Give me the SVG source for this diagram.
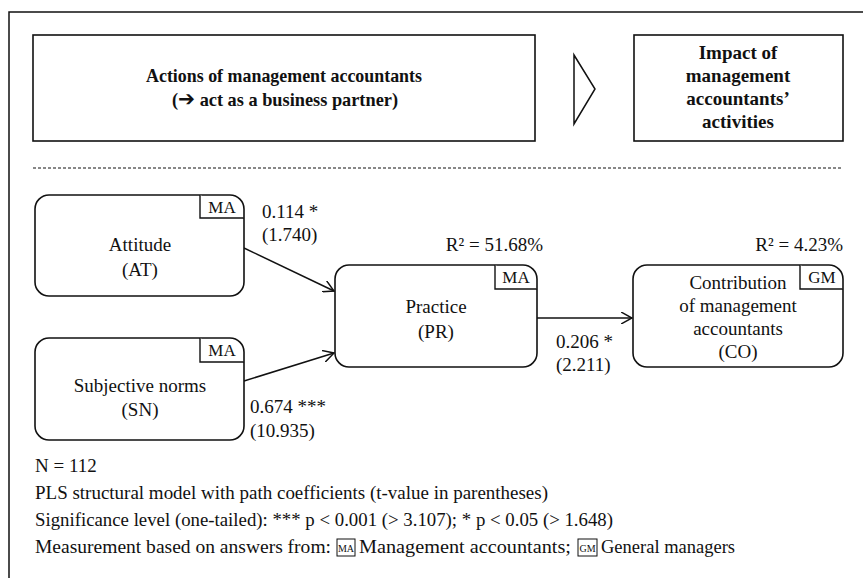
<svg xmlns="http://www.w3.org/2000/svg" width="863" height="578" viewBox="0 0 863 578">
<style>
text{font-family:"Liberation Serif","Times New Roman",serif;fill:#111;}
.b{font-weight:bold;font-size:19px;}
.n{font-size:19px;}
.t{font-size:17px;}
.f{font-size:19px;}
.box{fill:#fff;stroke:#111;stroke-width:1.6;}
.tag{fill:#fff;stroke:#111;stroke-width:1.4;}
.ln{fill:none;stroke:#111;stroke-width:1.5;}
.c{text-anchor:middle;}
</style>
<defs>
<marker id="ah" viewBox="0 0 12 12" refX="11" refY="6" markerWidth="12" markerHeight="12" markerUnits="userSpaceOnUse" orient="auto">
<path d="M0,0 L11,6 L0,12" fill="none" stroke="#111" stroke-width="1.5"/>
</marker>
</defs>
<rect width="863" height="578" fill="#fff"/>
<g id="frame">
<path class="ln" d="M9,578 V12 H863"/>
</g>
<g id="header-actions">
<rect x="33" y="35" width="502" height="106" class="box"/>
<text class="b c" x="284" y="82" textLength="276" lengthAdjust="spacingAndGlyphs">Actions of management accountants</text>
<text class="b c" x="285" y="106" textLength="226" lengthAdjust="spacingAndGlyphs">(<tspan font-family="DejaVu Sans" font-size="21">➔</tspan> act as a business partner)</text>
</g>
<g id="header-arrow">
<path class="ln" d="M574,55 L595,89 L574,124 Z" fill="#fff"/>
</g>
<g id="header-impact">
<rect x="634" y="35" width="209" height="106" class="box"/>
<text class="b c" x="738" y="59">Impact of</text>
<text class="b c" x="738" y="82">management</text>
<text class="b c" x="738" y="105">accountants’</text>
<text class="b c" x="738" y="128">activities</text>
</g>
<g id="divider">
<line x1="33" y1="168" x2="843" y2="168" stroke="#111" stroke-width="1" stroke-dasharray="3,2"/>
</g>
<g id="connectors">
<line class="ln" x1="244" y1="248" x2="334" y2="291" marker-end="url(#ah)"/>
<line class="ln" x1="244" y1="381" x2="334" y2="353" marker-end="url(#ah)"/>
<line class="ln" x1="537" y1="318" x2="632" y2="318" marker-end="url(#ah)"/>
<text class="n" x="262" y="218">0.114 *</text>
<text class="n" x="262" y="241">(1.740)</text>
<text class="n" x="250" y="413">0.674 ***</text>
<text class="n" x="250" y="437">(10.935)</text>
<text class="n" x="556" y="348">0.206 *</text>
<text class="n" x="556" y="371">(2.211)</text>
</g>
<g id="node-AT">
<rect x="35" y="195" width="209" height="101" rx="14" class="box"/>
<path class="tag" d="M200,195 V218 H244"/>
<text class="t c" x="222" y="213">MA</text>
<text class="n c" x="140" y="251">Attitude</text>
<text class="n c" x="140" y="276">(AT)</text>
</g>
<g id="node-SN">
<rect x="35" y="338" width="209" height="102" rx="14" class="box"/>
<path class="tag" d="M200,338 V362 H244"/>
<text class="t c" x="222" y="356">MA</text>
<text class="n c" x="140" y="392">Subjective norms</text>
<text class="n c" x="140" y="416">(SN)</text>
</g>
<g id="node-PR">
<rect x="335" y="265" width="202" height="102" rx="14" class="box"/>
<path class="tag" d="M495,265 V289 H537"/>
<text class="t c" x="516" y="283">MA</text>
<text class="n c" x="436" y="313">Practice</text>
<text class="n c" x="436" y="338">(PR)</text>
<text class="n" x="543" y="251" text-anchor="end">R² = 51.68%</text>
</g>
<g id="node-CO">
<rect x="633" y="265" width="210" height="102" rx="14" class="box"/>
<path class="tag" d="M800,265 V289 H843"/>
<text class="t c" x="822" y="283">GM</text>
<text class="n c" x="738" y="289">Contribution</text>
<text class="n c" x="738" y="312">of management</text>
<text class="n c" x="738" y="335">accountants</text>
<text class="n c" x="738" y="358">(CO)</text>
<text class="n" x="843" y="251" text-anchor="end">R² = 4.23%</text>
</g>
<g id="legend">
<text class="f" x="35" y="472">N  = 112</text>
<text class="f" x="35" y="499" textLength="513" lengthAdjust="spacingAndGlyphs">PLS structural model with path coefficients (t-value in parentheses)</text>
<text class="f" x="35" y="526" textLength="578" lengthAdjust="spacingAndGlyphs">Significance level (one-tailed): *** p &lt; 0.001 (&gt; 3.107); * p &lt; 0.05 (&gt; 1.648)</text>
<text class="f" x="35" y="553" textLength="296" lengthAdjust="spacingAndGlyphs">Measurement based on answers from:</text>
<rect x="337" y="539" width="18" height="17" fill="none" stroke="#111" stroke-width="1"/>
<text x="346" y="552" class="c" font-size="10">MA</text>
<text class="f" x="359" y="553" textLength="212" lengthAdjust="spacingAndGlyphs">Management accountants;</text>
<rect x="578" y="539" width="19" height="17" fill="none" stroke="#111" stroke-width="1"/>
<text x="587.5" y="552" class="c" font-size="10">GM</text>
<text class="f" x="601" y="553" textLength="134" lengthAdjust="spacingAndGlyphs">General managers</text>
</g>
</svg>
